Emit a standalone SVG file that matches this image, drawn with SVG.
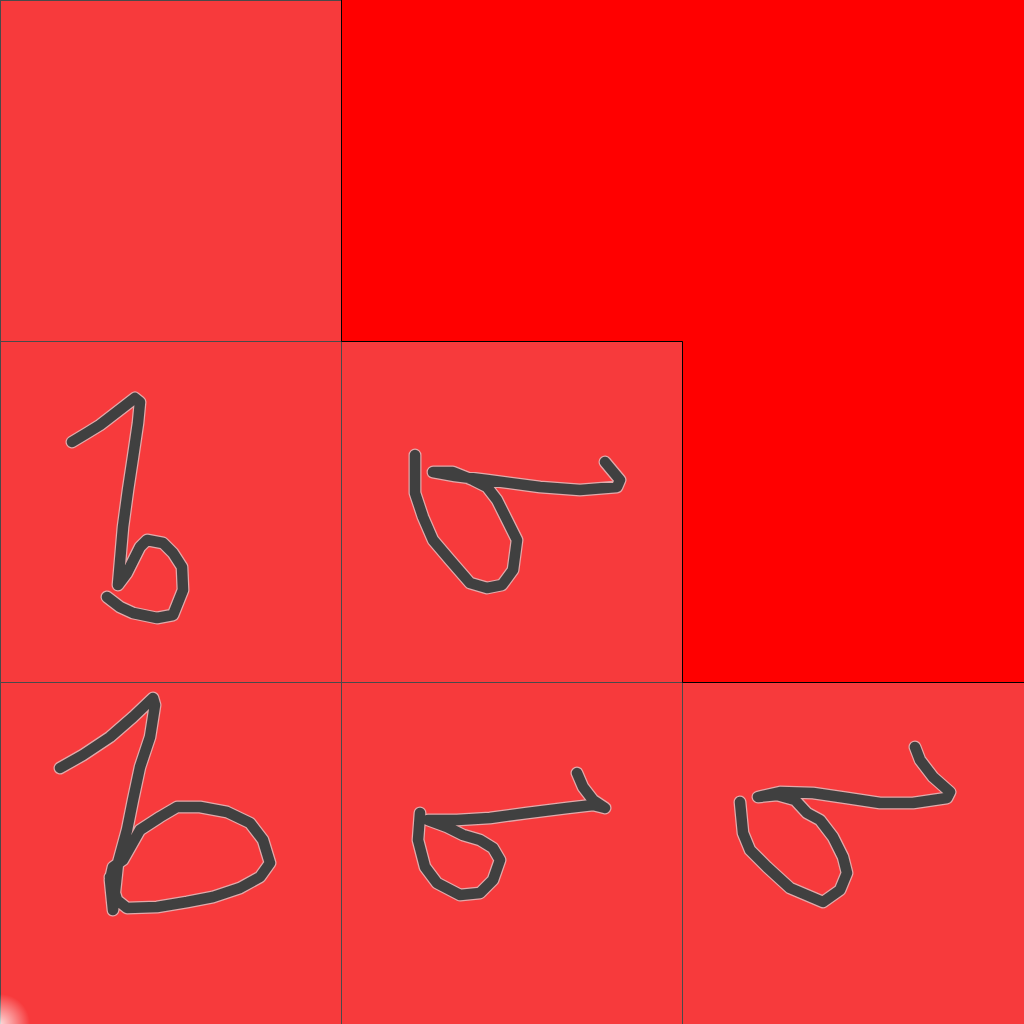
<svg xmlns="http://www.w3.org/2000/svg" width="1024" height="1024" viewBox="0 0 1024 1024">
<style>
.tile{fill:#f73a3c;stroke:#4a4a4a;stroke-width:1}
.halo{fill:none;stroke:#d8d8d8;stroke-width:13;stroke-linecap:round;stroke-linejoin:round;opacity:0.7}
.ink{fill:none;stroke:#404040;stroke-width:10.5;stroke-linecap:round;stroke-linejoin:round}
</style>
<defs>
<radialGradient id="glare" cx="0" cy="1024" r="30" gradientUnits="userSpaceOnUse">
<stop offset="0" stop-color="#ffffff" stop-opacity="0.8"/>
<stop offset="1" stop-color="#ffffff" stop-opacity="0"/>
</radialGradient>
</defs>
<rect x="0" y="0" width="1024" height="1024" fill="#ff0000"/>
<g id="tiles">
<rect class="tile" x="0.5" y="0.5" width="341" height="341"/>
<rect class="tile" x="0.5" y="341.5" width="341" height="341"/>
<rect class="tile" x="341.5" y="341.5" width="341" height="341"/>
<rect class="tile" x="0.5" y="682.5" width="341" height="342"/>
<rect class="tile" x="341.5" y="682.5" width="341" height="342"/>
<rect class="tile" x="682.5" y="682.5" width="342" height="342"/>
</g>
<path d="M341.5 0 V341.5 H682.5 V682.5 H1024" fill="none" stroke="#000" stroke-width="1"/>
<g id="strokes">
<g id="b1">
<path class="halo" d="M72 442 L87 433 L100 425 L113 415 L135 398 L140 402 L138 423 L133 457 L128 490 L123 527 L118 585 L127 573 L140 547 L147 540 L163 543 L173 553 L182 567 L183 590 L173 615 L157 618 L133 613 L120 607 L107 597"/>
<path class="ink" d="M72 442 L87 433 L100 425 L113 415 L135 398 L140 402 L138 423 L133 457 L128 490 L123 527 L118 585 L127 573 L140 547 L147 540 L163 543 L173 553 L182 567 L183 590 L173 615 L157 618 L133 613 L120 607 L107 597"/>
</g>
<g id="s1">
<path class="halo" d="M415 455 L415 493 L423 517 L433 540 L450 560 L470 583 L487 588 L502 585 L513 570 L517 540 L507 520 L497 500 L487 487 L473 480 L453 472 L433 472 L455 476 L487 480 L540 487 L580 490 L617 487 L620 480 L605 462"/>
<path class="ink" d="M415 455 L415 493 L423 517 L433 540 L450 560 L470 583 L487 588 L502 585 L513 570 L517 540 L507 520 L497 500 L487 487 L473 480 L453 472 L433 472 L455 476 L487 480 L540 487 L580 490 L617 487 L620 480 L605 462"/>
</g>
<g id="b2">
<path class="halo" d="M60 768 L83 755 L110 737 L133 717 L153 698 L155 705 L150 737 L140 767 L133 800 L127 830 L118 863 L113 910 L110 880 L113 867 L123 860 L140 830 L160 817 L177 807 L200 807 L227 812 L250 823 L263 840 L270 863 L260 877 L240 888 L213 897 L187 902 L157 907 L127 908 L117 900 L110 877"/>
<path class="ink" d="M60 768 L83 755 L110 737 L133 717 L153 698 L155 705 L150 737 L140 767 L133 800 L127 830 L118 863 L113 910 L110 880 L113 867 L123 860 L140 830 L160 817 L177 807 L200 807 L227 812 L250 823 L263 840 L270 863 L260 877 L240 888 L213 897 L187 902 L157 907 L127 908 L117 900 L110 877"/>
</g>
<g id="s2">
<path class="halo" d="M420 813 L418 840 L425 867 L437 883 L460 895 L480 893 L493 880 L500 860 L493 848 L480 840 L463 835 L447 827 L428 820 L457 820 L490 818 L527 813 L567 808 L593 805 L605 808 L593 800 L583 787 L577 773"/>
<path class="ink" d="M420 813 L418 840 L425 867 L437 883 L460 895 L480 893 L493 880 L500 860 L493 848 L480 840 L463 835 L447 827 L428 820 L457 820 L490 818 L527 813 L567 808 L593 805 L605 808 L593 800 L583 787 L577 773"/>
</g>
<g id="s3">
<path class="halo" d="M740 802 L743 833 L750 850 L767 867 L790 888 L823 902 L840 890 L847 873 L843 857 L833 837 L820 820 L807 813 L795 800 L777 795 L758 797 L780 792 L813 793 L847 798 L880 803 L913 803 L947 798 L950 792 L933 777 L920 760 L915 747"/>
<path class="ink" d="M740 802 L743 833 L750 850 L767 867 L790 888 L823 902 L840 890 L847 873 L843 857 L833 837 L820 820 L807 813 L795 800 L777 795 L758 797 L780 792 L813 793 L847 798 L880 803 L913 803 L947 798 L950 792 L933 777 L920 760 L915 747"/>
</g>
</g>
<rect x="0" y="994" width="30" height="30" fill="url(#glare)"/>
</svg>
